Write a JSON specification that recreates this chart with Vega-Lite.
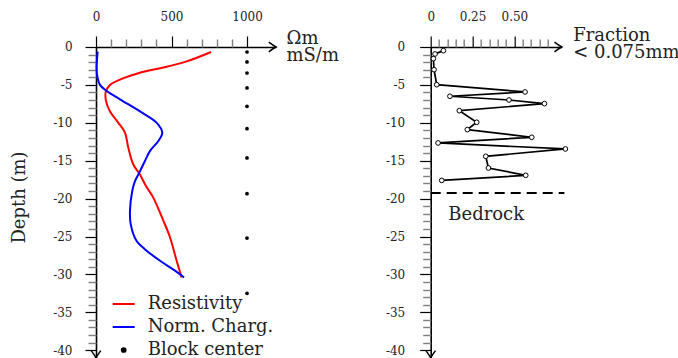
{
  "$schema": "https://vega.github.io/schema/vega-lite/v6.json",
  "background": "white",
  "padding": {"left": 10, "top": 10, "right": 20, "bottom": 5},
  "bounds": "flush",
  "spacing": 154.7,
  "config": {
    "view": {"stroke": null},
    "font": "DejaVu Serif",
    "axis": {
      "grid": false,
      "domainColor": "black",
      "domainWidth": 1.6,
      "labelFont": "DejaVu Serif",
      "labelFontSize": 12,
      "labelColor": "#222",
      "titleFont": "DejaVu Serif",
      "titleFontSize": 18,
      "titleFontWeight": "normal",
      "titleColor": "#222",
      "labelOverlap": false,
      "labelBound": false,
      "labelFlush": false,
      "tickWidth": 1.2
    }
  },
  "datasets": {
    "curves": [
      {"series": "Resistivity", "value": 762, "depth": -0.66},
      {"series": "Resistivity", "value": 600, "depth": -1.9},
      {"series": "Resistivity", "value": 424, "depth": -2.8},
      {"series": "Resistivity", "value": 291, "depth": -3.4},
      {"series": "Resistivity", "value": 159, "depth": -4.3},
      {"series": "Resistivity", "value": 93, "depth": -5.0},
      {"series": "Resistivity", "value": 66, "depth": -5.8},
      {"series": "Resistivity", "value": 66, "depth": -7.1},
      {"series": "Resistivity", "value": 93, "depth": -8.5},
      {"series": "Resistivity", "value": 148, "depth": -10.0},
      {"series": "Resistivity", "value": 192, "depth": -11.3},
      {"series": "Resistivity", "value": 214, "depth": -13.3},
      {"series": "Resistivity", "value": 247, "depth": -15.5},
      {"series": "Resistivity", "value": 290, "depth": -16.8},
      {"series": "Resistivity", "value": 330, "depth": -18.3},
      {"series": "Resistivity", "value": 380, "depth": -19.9},
      {"series": "Resistivity", "value": 446, "depth": -22.9},
      {"series": "Resistivity", "value": 490, "depth": -25.1},
      {"series": "Resistivity", "value": 534, "depth": -28.2},
      {"series": "Resistivity", "value": 567, "depth": -30.4},
      {"series": "Norm. Charg.", "value": 11, "depth": -0.6},
      {"series": "Norm. Charg.", "value": 4, "depth": -2.8},
      {"series": "Norm. Charg.", "value": 9, "depth": -3.9},
      {"series": "Norm. Charg.", "value": 26, "depth": -5.0},
      {"series": "Norm. Charg.", "value": 71, "depth": -5.8},
      {"series": "Norm. Charg.", "value": 159, "depth": -6.9},
      {"series": "Norm. Charg.", "value": 291, "depth": -8.5},
      {"series": "Norm. Charg.", "value": 402, "depth": -10.0},
      {"series": "Norm. Charg.", "value": 439, "depth": -11.3},
      {"series": "Norm. Charg.", "value": 413, "depth": -12.4},
      {"series": "Norm. Charg.", "value": 358, "depth": -13.7},
      {"series": "Norm. Charg.", "value": 325, "depth": -15.0},
      {"series": "Norm. Charg.", "value": 291, "depth": -16.4},
      {"series": "Norm. Charg.", "value": 258, "depth": -17.7},
      {"series": "Norm. Charg.", "value": 240, "depth": -19.0},
      {"series": "Norm. Charg.", "value": 225, "depth": -21.6},
      {"series": "Norm. Charg.", "value": 230, "depth": -23.4},
      {"series": "Norm. Charg.", "value": 269, "depth": -25.6},
      {"series": "Norm. Charg.", "value": 325, "depth": -26.7},
      {"series": "Norm. Charg.", "value": 424, "depth": -28.2},
      {"series": "Norm. Charg.", "value": 523, "depth": -29.5},
      {"series": "Norm. Charg.", "value": 583, "depth": -30.4}
    ],
    "blocks": [
      {"series": "Block center", "value": 1000, "depth": -0.66},
      {"series": "Block center", "value": 1000, "depth": -1.97},
      {"series": "Block center", "value": 1000, "depth": -3.43},
      {"series": "Block center", "value": 1000, "depth": -5.4},
      {"series": "Block center", "value": 1000, "depth": -7.82},
      {"series": "Block center", "value": 1000, "depth": -10.77},
      {"series": "Block center", "value": 1000, "depth": -14.64},
      {"series": "Block center", "value": 1000, "depth": -19.35},
      {"series": "Block center", "value": 1000, "depth": -25.2},
      {"series": "Block center", "value": 1000, "depth": -32.5}
    ],
    "arrowsL": [
      {"value": 1192, "depth": 0, "dir": "right"},
      {"value": 0, "depth": -41, "dir": "down"}
    ],
    "fraction": [
      {"frac": 0.076, "depth": -0.48},
      {"frac": 0.026, "depth": -0.92},
      {"frac": 0.016, "depth": -1.54},
      {"frac": 0.02, "depth": -2.99},
      {"frac": 0.036, "depth": -4.97},
      {"frac": 0.564, "depth": -5.93},
      {"frac": 0.115, "depth": -6.5},
      {"frac": 0.468, "depth": -6.99},
      {"frac": 0.68, "depth": -7.47},
      {"frac": 0.171, "depth": -8.4},
      {"frac": 0.275, "depth": -9.93},
      {"frac": 0.219, "depth": -10.9},
      {"frac": 0.604, "depth": -11.91},
      {"frac": 0.044, "depth": -12.66},
      {"frac": 0.805, "depth": -13.45},
      {"frac": 0.329, "depth": -14.42},
      {"frac": 0.345, "depth": -15.96},
      {"frac": 0.568, "depth": -16.93},
      {"frac": 0.066, "depth": -17.6}
    ],
    "bedrock": [
      {"frac": 0, "frac2": 0.799, "depth": -19.26}
    ],
    "bedrockLabel": [
      {"frac": 0.105, "depth": -22.77, "label": "Bedrock"}
    ],
    "arrowsR": [
      {"frac": 0.783, "depth": 0, "dir": "right"},
      {"frac": 0, "depth": -41, "dir": "down"}
    ]
  },
  "resolve": {"scale": {"x": "independent", "y": "independent"}},
  "hconcat": [
    {
      "width": 180,
      "height": 310.8,
      "resolve": {"axis": {"x": "independent", "y": "independent"}},
      "layer": [
        {
          "data": {"name": "curves"},
          "mark": {"type": "line", "strokeWidth": 2, "interpolate": "catmull-rom"},
          "encoding": {
            "x": {
              "field": "value", "type": "quantitative",
              "scale": {"domain": [0, 1192], "nice": false, "zero": false},
              "axis": {
                "orient": "top",
                "values": [0, 500, 1000],
                "format": "d",
                "labelOverlap": false,
                "tickColor": "black",
                "tickSize": 11,
                "labelPadding": 12.7,
                "title": ["Ωm", "mS/m"],
                "titleX": 190,
                "titleY": -3.7,
                "titleAlign": "left",
                "titleAngle": 0,
                "titleBaseline": "alphabetic",
                "titleLineHeight": 17
              }
            },
            "y": {
              "field": "depth", "type": "quantitative",
              "scale": {"domain": [-41, 0], "nice": false, "zero": false},
              "axis": {
                "orient": "left",
                "values": [0, -5, -10, -15, -20, -25, -30, -35, -40],
                "labelExpr": "'' + datum.value",
                "labelOverlap": false,
                "tickColor": "black",
                "tickSize": 11,
                "labelPadding": 13,
                "title": "Depth (m)",
                "titleX": -77,
                "titleY": 150,
                "titleAngle": -90,
                "titleAlign": "center",
                "titleBaseline": "middle"
              }
            },
            "color": {
              "field": "series", "type": "nominal",
              "scale": {"domain": ["Resistivity", "Norm. Charg.", "Block center"], "range": ["#ff0000", "#0000ff", "#000000"]},
              "legend": {
                "orient": "none",
                "legendX": 15.7,
                "legendY": 245,
                "title": null,
                "labelFont": "DejaVu Serif",
                "labelFontSize": 18,
                "labelColor": "#222",
                "symbolType": "stroke",
                "symbolSize": 484,
                "symbolStrokeWidth": 2,
                "rowPadding": 2,
                "labelOffset": 12,
                "encode": {
                  "symbols": {
                    "update": {
                      "shape": {"signal": "datum.value === 'Block center' ? 'circle' : 'stroke'"},
                      "size": {"signal": "datum.value === 'Block center' ? 14 : 484"},
                      "fill": {"signal": "datum.value === 'Block center' ? 'black' : 'transparent'"},
                      "stroke": {"signal": "datum.value === 'Resistivity' ? '#ff0000' : datum.value === 'Norm. Charg.' ? '#0000ff' : 'transparent'"},
                      "strokeWidth": {"value": 2},
                      "opacity": {"value": 1}
                    }
                  }
                }
              }
            },
            "order": {"field": "depth", "sort": "descending"}
          }
        },
        {
          "data": {"name": "blocks"},
          "mark": {"type": "point", "filled": true, "size": 14, "opacity": 1},
          "encoding": {
            "x": {
              "field": "value", "type": "quantitative",
              "axis": {"orient": "top", "values": [100, 200, 300, 400, 600, 700, 800, 900], "labels": false, "domain": false, "ticks": true, "tickColor": "#808080", "tickWidth": 1.4, "tickSize": 8, "title": null}
            },
            "y": {
              "field": "depth", "type": "quantitative",
              "axis": {"orient": "left", "values": [-1, -2, -3, -4, -6, -7, -8, -9, -11, -12, -13, -14, -16, -17, -18, -19, -21, -22, -23, -24, -26, -27, -28, -29, -31, -32, -33, -34, -36, -37, -38, -39], "labels": false, "domain": false, "ticks": true, "tickColor": "#808080", "tickWidth": 1.4, "tickSize": 8, "title": null}
            },
            "color": {"field": "series", "type": "nominal"}
          }
        },
        {
          "data": {"name": "arrowsL"},
          "mark": {"type": "point", "filled": false, "stroke": "black", "strokeWidth": 1.5, "size": 64, "opacity": 1},
          "encoding": {
            "x": {"field": "value", "type": "quantitative", "axis": null},
            "y": {"field": "depth", "type": "quantitative", "axis": null},
            "shape": {
              "field": "dir", "type": "nominal", "legend": null,
              "scale": {"domain": ["right", "down"], "range": ["M-1.8,-1.2 Q-0.6,-0.3 0,0 Q-0.6,0.3 -1.8,1.2", "M-1.2,-1.8 Q-0.3,-0.6 0,0 Q0.3,-0.6 1.2,-1.8"]}
            }
          }
        }
      ]
    },
    {
      "width": 131,
      "height": 310.8,
      "resolve": {"axis": {"x": "independent", "y": "independent"}},
      "layer": [
        {
          "data": {"name": "fraction"},
          "mark": {"type": "line", "color": "black", "strokeWidth": 1.7, "point": {"filled": false, "fill": "white", "stroke": "black", "size": 22, "strokeWidth": 1, "opacity": 1}},
          "encoding": {
            "x": {
              "field": "frac", "type": "quantitative",
              "scale": {"domain": [0, 0.783], "nice": false, "zero": false},
              "axis": {
                "orient": "top",
                "values": [0, 0.25, 0.5],
                "labelExpr": "datum.value === 0 ? '0' : datum.value < 0.3 ? '0.25' : '0.50'",
                "labelOverlap": false,
                "tickColor": "black",
                "tickSize": 11,
                "labelPadding": 12.7,
                "title": ["Fraction", "< 0.075mm"],
                "titleX": 142,
                "titleY": -6.4,
                "titleAlign": "left",
                "titleAngle": 0,
                "titleBaseline": "alphabetic",
                "titleLineHeight": 17
              }
            },
            "y": {
              "field": "depth", "type": "quantitative",
              "scale": {"domain": [-41, 0], "nice": false, "zero": false},
              "axis": {
                "orient": "left",
                "values": [0, -5, -10, -15, -20, -25, -30, -35, -40],
                "labelExpr": "'' + datum.value",
                "labelOverlap": false,
                "tickColor": "black",
                "tickSize": 11,
                "labelPadding": 15,
                "title": null
              }
            },
            "order": {"field": "depth", "sort": "descending"}
          }
        },
        {
          "data": {"name": "bedrock"},
          "mark": {"type": "rule", "color": "black", "strokeWidth": 2.2, "strokeDash": [10, 6]},
          "encoding": {
            "x": {
              "field": "frac", "type": "quantitative",
              "axis": {"orient": "top", "values": [0.05, 0.1, 0.15, 0.2, 0.3, 0.35, 0.4, 0.45, 0.55, 0.6, 0.65, 0.7], "labels": false, "domain": false, "ticks": true, "tickColor": "#808080", "tickWidth": 1.4, "tickSize": 8, "title": null}
            },
            "x2": {"field": "frac2"},
            "y": {
              "field": "depth", "type": "quantitative",
              "axis": {"orient": "left", "values": [-1, -2, -3, -4, -6, -7, -8, -9, -11, -12, -13, -14, -16, -17, -18, -19, -21, -22, -23, -24, -26, -27, -28, -29, -31, -32, -33, -34, -36, -37, -38, -39], "labels": false, "domain": false, "ticks": true, "tickColor": "#808080", "tickWidth": 1.4, "tickSize": 8, "title": null}
            }
          }
        },
        {
          "data": {"name": "bedrockLabel"},
          "mark": {"type": "text", "align": "left", "baseline": "alphabetic", "font": "DejaVu Serif", "fontSize": 18, "color": "#222"},
          "encoding": {
            "x": {"field": "frac", "type": "quantitative", "axis": null},
            "y": {"field": "depth", "type": "quantitative", "axis": null},
            "text": {"field": "label"}
          }
        },
        {
          "data": {"name": "arrowsR"},
          "mark": {"type": "point", "filled": false, "stroke": "black", "strokeWidth": 1.5, "size": 64, "opacity": 1},
          "encoding": {
            "x": {"field": "frac", "type": "quantitative", "axis": null},
            "y": {"field": "depth", "type": "quantitative", "axis": null},
            "shape": {
              "field": "dir", "type": "nominal", "legend": null,
              "scale": {"domain": ["right", "down"], "range": ["M-1.8,-1.2 Q-0.6,-0.3 0,0 Q-0.6,0.3 -1.8,1.2", "M-1.2,-1.8 Q-0.3,-0.6 0,0 Q0.3,-0.6 1.2,-1.8"]}
            }
          }
        }
      ]
    }
  ]
}
